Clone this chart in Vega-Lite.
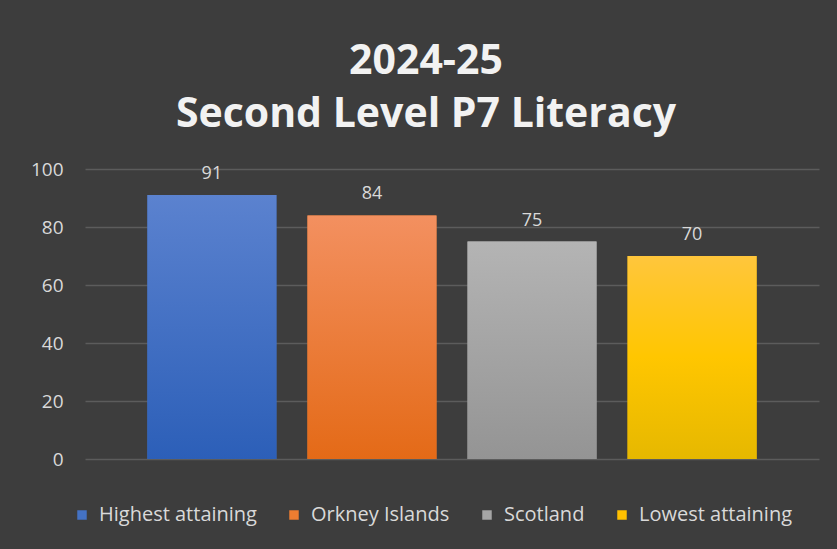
{
  "$schema": "https://vega.github.io/schema/vega-lite/v6.json",
  "width": 734,
  "height": 290,
  "autosize": {"type": "none"},
  "padding": {"left": 85, "top": 169, "right": 18, "bottom": 90},
  "background": "#3d3d3d",
  "title": {
    "text": ["2024-25", "Second Level P7 Literacy"],
    "anchor": "middle",
    "frame": "group",
    "dx": -26,
    "fontSize": 41,
    "lineHeight": 53,
    "font": "Open Sans",
    "fontWeight": "bold",
    "color": "#f2f2f2",
    "offset": 24
  },
  "data": {
    "values": [
      {"group": "Highest attaining", "value": 91},
      {"group": "Orkney Islands", "value": 84},
      {"group": "Scotland", "value": 75},
      {"group": "Lowest attaining", "value": 70}
    ]
  },
  "encoding": {
    "x": {
      "field": "group",
      "type": "nominal",
      "sort": null,
      "scale": {"paddingInner": 0.194, "paddingOuter": 0.39},
      "axis": null
    },
    "y": {
      "field": "value",
      "type": "quantitative",
      "scale": {"domain": [0, 100]},
      "axis": {
        "values": [0, 20, 40, 60, 80, 100],
        "title": null,
        "domain": false,
        "ticks": false,
        "labelColor": "#d9d9d9",
        "labelFont": "Open Sans",
        "labelFontSize": 19,
        "labelPadding": 22,
        "gridColor": "#5c5c5c",
        "gridWidth": 1.5
      }
    }
  },
  "layer": [
    {
      "mark": {"type": "bar"},
      "encoding": {
        "color": {
          "field": "group",
          "type": "nominal",
          "sort": null,
          "scale": {
            "domain": ["Highest attaining", "Orkney Islands", "Scotland", "Lowest attaining"],
            "range": ["#4472c4", "#ed7d31", "#a5a5a5", "#ffc000"]
          },
          "legend": {
            "orient": "none",
            "legendX": -13,
            "legendY": 336,
            "direction": "horizontal",
            "title": null,
            "symbolType": "square",
            "symbolSize": 90,
            "symbolStrokeWidth": 0,
            "symbolOpacity": 1,
            "labelColor": "#d9d9d9",
            "labelFont": "Open Sans",
            "labelFontSize": 20,
            "labelLimit": 300,
            "labelOffset": 7,
            "columnPadding": 27
          }
        }
      }
    },
    {
      "mark": {"type": "bar"},
      "encoding": {
        "fill": {
          "condition": [
            {"test": "datum.group === 'Highest attaining'", "value": {"gradient": "linear", "x1": 0, "y1": 0, "x2": 0, "y2": 1, "stops": [{"offset": 0, "color": "#5b82cf"}, {"offset": 1, "color": "#2c5fb8"}]}},
            {"test": "datum.group === 'Orkney Islands'", "value": {"gradient": "linear", "x1": 0, "y1": 0, "x2": 0, "y2": 1, "stops": [{"offset": 0, "color": "#f39060"}, {"offset": 1, "color": "#e46a17"}]}},
            {"test": "datum.group === 'Scotland'", "value": {"gradient": "linear", "x1": 0, "y1": 0, "x2": 0, "y2": 1, "stops": [{"offset": 0, "color": "#b4b4b4"}, {"offset": 1, "color": "#949494"}]}}
          ],
          "value": {"gradient": "linear", "x1": 0, "y1": 0, "x2": 0, "y2": 1, "stops": [{"offset": 0, "color": "#ffc63c"}, {"offset": 0.5, "color": "#ffc600"}, {"offset": 1, "color": "#e6b800"}]}
        }
      }
    },
    {
      "mark": {"type": "text", "baseline": "alphabetic", "dy": -16, "color": "#d9d9d9", "font": "Open Sans", "fontSize": 18},
      "encoding": {"text": {"field": "value", "type": "quantitative"}}
    }
  ],
  "config": {"view": {"stroke": null}}
}
